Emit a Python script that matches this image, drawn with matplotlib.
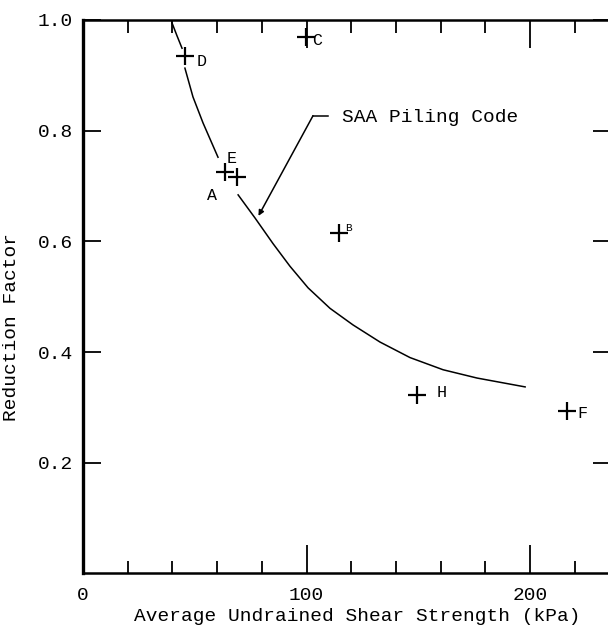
import matplotlib
matplotlib.use("Agg")
import matplotlib.pyplot as plt
import numpy as np

plt.rcParams['font.family'] = ['Liberation Mono', 'DejaVu Sans Mono']

# Measured points (kPa, reduction factor)
pt_names = ["D", "C", "E", "A", "B", "H", "F"]
pt_x = [45.6, 99.8, 63.5, 68.9, 114.5, 149.4, 216.6]
pt_y = [0.935, 0.969, 0.725, 0.716, 0.615, 0.322, 0.293]

# SAA Piling Code curve (nan = gaps where the curve passes the markers)
code_x = [39.8, 42.0, 44.3, np.nan, 45.6, 49.2, 53.7, 60.4, np.nan,
          69.4, 77.0, 85.0, 92.6, 100.7, 110.5, 120.8, 132.9, 146.3,
          161.1, 176.3, 197.8]
code_y = [0.995, 0.972, 0.949, np.nan, 0.913, 0.861, 0.814, 0.752, np.nan,
          0.684, 0.642, 0.596, 0.555, 0.516, 0.479, 0.449, 0.418, 0.390,
          0.368, 0.353, 0.337]

x_major = [0, 100, 200]
x_minor = [20, 40, 60, 80, 120, 140, 160, 180, 220]
y_major = [0.2, 0.4, 0.6, 0.8, 1.0]

fig = plt.figure(figsize=(6.08, 6.30), dpi=100)
ax = fig.add_axes([83 / 608, 56.6 / 630, 527.5 / 608, 553.4 / 630])

ax.plot(code_x, code_y, color="black", lw=1.1)
ax.plot(pt_x, pt_y, linestyle="none", marker="+", color="black",
        markersize=13, markeredgewidth=1.6)

# point labels: offsets in pixels
label_off = {"D": (12, -6), "C": (6, -3), "E": (2, 14), "A": (-30, -18),
             "B": (6, 5), "H": (20, 3), "F": (10, -2)}
label_size = {"B": 8}
for name, x, y in zip(pt_names, pt_x, pt_y):
    dx, dy = label_off[name]
    ax.annotate(name, (x, y), xytext=(dx, dy), textcoords="offset pixels",
                fontsize=label_size.get(name, 12), va="center", ha="left")

# leader for the code curve
ax.plot([109.6, 102.9], [0.827, 0.827], color="black", lw=1.1)
ax.annotate("", xy=(78.5, 0.646), xytext=(102.9, 0.827),
            arrowprops=dict(arrowstyle="-|>", color="black", lw=1.1,
                            mutation_scale=8, shrinkA=0, shrinkB=0))
ax.text(115.9, 0.823, "SAA Piling Code", fontsize=14, va="center", ha="left")

ax.set_xlim(0, 236)
ax.set_ylim(0, 1.0)

ax.set_xticks(x_major)
ax.set_xticks(x_minor, minor=True)
ax.set_yticks(y_major)
ax.set_yticklabels([f"{v:.1f}" for v in y_major])
ax.tick_params(axis="x", which="major", direction="in", length=20, width=1.3,
               top=True, labelsize=14, pad=10)
ax.tick_params(axis="x", which="minor", direction="in", length=9, width=1.3,
               top=True)
ax.tick_params(axis="y", which="major", direction="in", length=13, width=1.3,
               right=True, labelsize=14, pad=7)

ax.spines["left"].set_linewidth(2.4)
ax.spines["bottom"].set_linewidth(1.8)
ax.spines["top"].set_linewidth(1.8)
ax.spines["right"].set_linewidth(1.0)

ax.set_xlabel("Average Undrained Shear Strength (kPa)", fontsize=14)
ax.xaxis.set_label_coords(0.519, -0.063)
ax.set_ylabel("Reduction Factor", fontsize=14)
ax.yaxis.set_label_coords(-0.119, 0.445)

fig.savefig("out.png", dpi=100)
